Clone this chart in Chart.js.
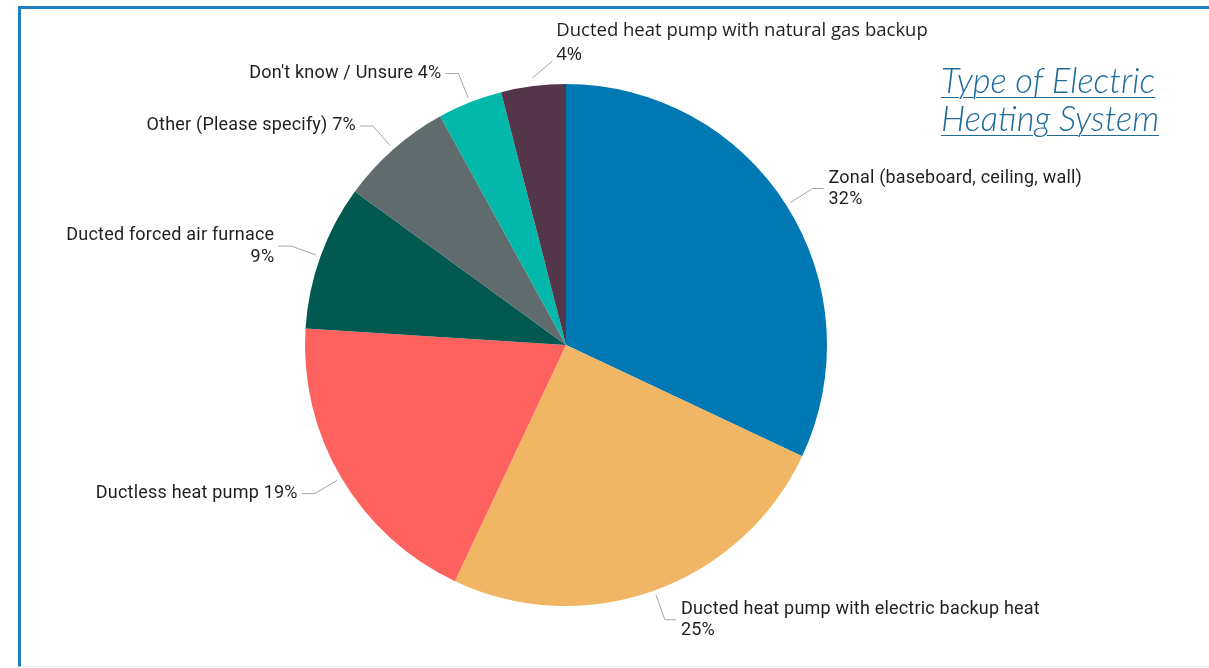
<!DOCTYPE html>
<html>
<head>
<meta charset="utf-8">
<title>Type of Electric Heating System</title>
<script src="https://cdn.jsdelivr.net/npm/chart.js@4.4.0/dist/chart.umd.min.js"></script>
<style>
  html, body { margin: 0; padding: 0; background: #fff; }
  #wrap { position: relative; width: 1209px; height: 668px; overflow: hidden; }
  #frame {
    position: absolute; left: 18px; top: 6px; width: 1220px; height: 661px;
    box-sizing: border-box;
    border-left: 3px solid #1a7fc0; border-top: 3px solid #1a7fc0;
    border-bottom: 1px solid #ececec;
  }
  #title {
    position: absolute; left: 941px; top: 61px;
    font-family: Lato, sans-serif; font-style: italic; font-weight: 300;
    font-size: 34.5px; line-height: 38px; color: #1f6b9a;
    text-decoration: underline; text-decoration-thickness: 1px; text-underline-offset: 4px;
  }
  #pie { position: absolute; left: 0; top: 0; }
</style>
</head>
<body>
<div id="wrap">
  <div id="frame"></div>
  <canvas id="pie" width="1209" height="668"></canvas>
  <div id="title">Type of Electric<br>Heating System</div>
</div>
<script>
// survey answers, clockwise from 12 o'clock
var categories = [
  'Zonal (baseboard, ceiling, wall)',
  'Ducted heat pump with electric backup heat',
  'Ductless heat pump',
  'Ducted forced air furnace',
  'Other (Please specify)',
  "Don't know / Unsure",
  'Ducted heat pump with natural gas backup'
];
var shares = [32, 25, 19, 9, 7, 4, 4];
var sliceColors = ['#0078b4', '#f0b664', '#fe625e', '#01594f', '#5f6b6d', '#01b8aa', '#533649'];

// how each label is laid out: two lines or one, and the odd one placed by hand
var labelLayout = [
  { twoLines: true },
  { twoLines: true },
  { twoLines: false },
  { twoLines: true },
  { twoLines: false },
  { twoLines: false },
  { twoLines: true, free: true, shift: [20, -17] }
];

var leaderLabels = {
  id: 'leaderLabels',
  afterDatasetsDraw: function(chart) {
    var ctx = chart.ctx;
    var meta = chart.getDatasetMeta(0);
    ctx.save();
    meta.data.forEach(function(arc, i) {
      var p = arc.getProps(['x', 'y', 'startAngle', 'endAngle', 'outerRadius'], true);
      var mid = (p.startAngle + p.endAngle) / 2;
      var cos = Math.cos(mid), sin = Math.sin(mid);
      var lay = labelLayout[i];
      var pct = shares[i] + '%';
      var name = chart.data.labels[i];

      ctx.strokeStyle = '#a6a6a6';
      ctx.lineWidth = 1;
      ctx.fillStyle = '#1f1f1f';
      ctx.textBaseline = 'middle';

      if (lay.free) {
        var sx = p.x + cos * (p.outerRadius + 8);
        var sy = p.y + sin * (p.outerRadius + 8);
        var ex = sx + lay.shift[0], ey = sy + lay.shift[1];
        ctx.beginPath();
        ctx.moveTo(sx, sy);
        ctx.lineTo(ex, ey);
        ctx.stroke();
        ctx.font = '18.5px "Open Sans"';
        ctx.textAlign = 'left';
        ctx.fillText(name, ex + 4, ey - 30);
        ctx.fillText(pct, ex + 4, ey - 6);
        return;
      }

      var right = cos >= 0;
      var x0 = p.x + cos * (p.outerRadius + 5);
      var y0 = p.y + sin * (p.outerRadius + 5);
      var x1 = p.x + cos * (p.outerRadius + 31);
      var y1 = p.y + sin * (p.outerRadius + 31);
      var x2 = x1 + (right ? 11 : -13);
      ctx.beginPath();
      ctx.moveTo(x0, y0);
      ctx.lineTo(x1, y1);
      ctx.lineTo(x2, y1);
      ctx.stroke();

      ctx.font = '18px Roboto';
      ctx.letterSpacing = '0.2px';
      ctx.textAlign = right ? 'left' : 'right';
      var tx = x2 + (right ? 5 : -4);
      if (lay.twoLines) {
        ctx.fillText(name, tx, y1 - 10.5);
        ctx.fillText(pct, tx, y1 + 11);
      } else {
        ctx.fillText(name + ' ' + pct, tx, y1);
      }
      ctx.letterSpacing = '0px';
    });
    ctx.restore();
  }
};

new Chart(document.getElementById('pie'), {
  type: 'pie',
  data: {
    labels: categories,
    datasets: [{
      data: shares,
      backgroundColor: sliceColors,
      borderWidth: 0,
      hoverOffset: 0,
      offset: 0
    }]
  },
  options: {
    responsive: false,
    animation: false,
    layout: { padding: { left: 305, right: 382, top: 84, bottom: 62 } },
    plugins: {
      legend: { display: false },
      tooltip: { enabled: false },
      title: { display: false }
    }
  },
  plugins: [leaderLabels]
});
</script>
</body>
</html>
